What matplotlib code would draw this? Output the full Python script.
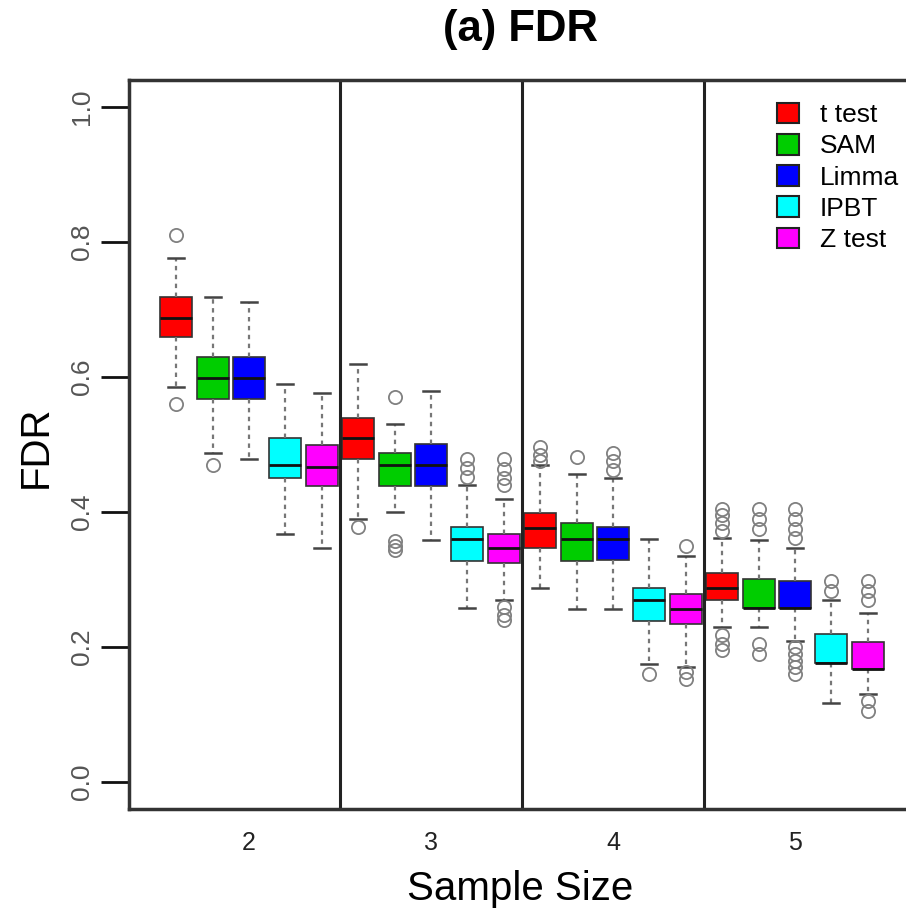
import matplotlib
matplotlib.use("Agg")
import matplotlib.pyplot as plt
from matplotlib.patches import Patch

plt.rcParams['font.family'] = ['Liberation Sans', 'DejaVu Sans']

methods = ['t test', 'SAM', 'Limma', 'IPBT', 'Z test']
colors = ['#FF0000', '#00CD00', '#0000FF', '#00FFFF', '#FF00FF']
sample_sizes = ['2', '3', '4', '5']

# box statistics, 5 methods per sample size (2, 3, 4, 5)
med = [0.688, 0.598, 0.598, 0.469, 0.467,
       0.510, 0.469, 0.469, 0.360, 0.347,
       0.377, 0.360, 0.360, 0.270, 0.257,
       0.288, 0.258, 0.258, 0.177, 0.168]
q1 = [0.659, 0.567, 0.567, 0.450, 0.438,
      0.478, 0.438, 0.438, 0.328, 0.324,
      0.347, 0.327, 0.329, 0.239, 0.234,
      0.269, 0.258, 0.258, 0.177, 0.168]
q3 = [0.718, 0.629, 0.629, 0.509, 0.499,
      0.540, 0.488, 0.501, 0.378, 0.368,
      0.399, 0.383, 0.378, 0.288, 0.279,
      0.309, 0.301, 0.298, 0.220, 0.208]
whislo = [0.585, 0.488, 0.479, 0.368, 0.347,
          0.390, 0.400, 0.359, 0.258, 0.270,
          0.288, 0.257, 0.257, 0.175, 0.170,
          0.229, 0.230, 0.209, 0.117, 0.130]
whishi = [0.777, 0.718, 0.711, 0.590, 0.577,
          0.620, 0.530, 0.580, 0.440, 0.420,
          0.469, 0.457, 0.451, 0.360, 0.335,
          0.362, 0.358, 0.347, 0.269, 0.250]
fliers = [[0.810, 0.560], [0.469], [], [], [],
          [0.378], [0.571, 0.357, 0.350, 0.344], [], [0.478, 0.465, 0.452],
          [0.478, 0.463, 0.450, 0.440, 0.260, 0.248, 0.240],
          [0.497, 0.485, 0.475], [0.481], [0.488, 0.475, 0.462], [0.160],
          [0.349, 0.163, 0.152],
          [0.405, 0.395, 0.383, 0.372, 0.218, 0.205, 0.195],
          [0.405, 0.390, 0.375, 0.205, 0.190],
          [0.405, 0.390, 0.375, 0.362, 0.200, 0.190, 0.180, 0.170, 0.160],
          [0.298, 0.283], [0.298, 0.283, 0.270, 0.120, 0.105]]

stats = []
for i in range(len(med)):
    stats.append(dict(med=med[i], q1=q1[i], q3=q3[i], whislo=whislo[i],
                      whishi=whishi[i], fliers=fliers[i]))

fig = plt.figure(figsize=(9.06, 9.14), dpi=100)
ax = fig.add_axes([129 / 906, 105 / 914, 786 / 906, 729 / 914])

positions = list(range(1, len(med) + 1))
bp = ax.bxp(stats, positions=positions, widths=0.88, capwidths=0.44,
            patch_artist=True, manage_ticks=False,
            boxprops=dict(edgecolor='#333333', linewidth=1.2),
            whiskerprops=dict(color='#777777', linewidth=1.6, linestyle=(0, (2, 2))),
            capprops=dict(color='#444444', linewidth=1.8),
            medianprops=dict(color='#111111', linewidth=2.0),
            flierprops=dict(marker='o', markerfacecolor='none',
                            markeredgecolor='#808080', markersize=9.5,
                            markeredgewidth=1.3))
for k, box in enumerate(bp['boxes']):
    box.set_facecolor(colors[k % len(colors)])

n = len(methods)
for g in range(1, len(sample_sizes)):
    ax.axvline(g * n + 0.5, color='#222222', linewidth=2.2)

ax.set_xlim(-0.3, 21.3)
ax.set_ylim(-0.04, 1.04)

ax.set_xticks([g * n + (n + 1) / 2 for g in range(len(sample_sizes))])
ax.set_xticklabels(sample_sizes)
ax.tick_params(axis='x', length=0, pad=16, labelsize=18, labelcolor='#222222')

yt = [0.0, 0.2, 0.4, 0.6, 0.8, 1.0]
ax.set_yticks(yt)
ax.set_yticklabels(['%.1f' % v for v in yt], rotation=90, va='center')
ax.tick_params(axis='y', length=20, width=2, pad=5, labelsize=19,
               labelcolor='#555555', color='#111111')

for s in ax.spines.values():
    s.set_linewidth(2.5)
    s.set_color('#333333')

ax.set_ylabel('FDR', fontsize=29)
ax.yaxis.set_label_coords(-0.094, 0.497)
ax.set_xlabel('Sample Size', fontsize=29)
ax.xaxis.set_label_coords(0.497, -0.084)

fig.text(0.574, 1 - 29 / 914, '(a) FDR', fontsize=31.5, fontweight='bold',
         ha='center', va='center')

handles = [Patch(facecolor=c, edgecolor='#222222', linewidth=1.5) for c in colors]
ax.legend(handles, methods, loc='upper left', bbox_to_anchor=(0.824, 0.969),
          frameon=False, fontsize=19, handlelength=0.83, handleheight=0.83,
          handletextpad=0.8, labelspacing=0.255, borderpad=0, borderaxespad=0)

fig.savefig('out.png', dpi=100)
